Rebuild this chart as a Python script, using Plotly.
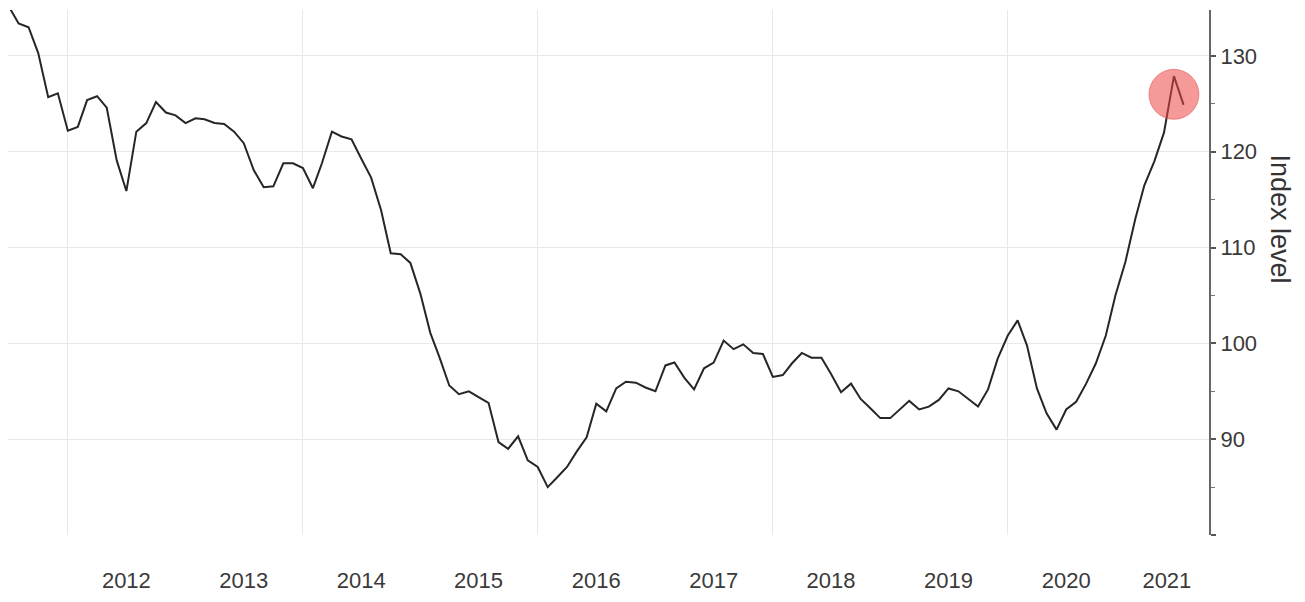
import pandas as pd
import plotly.graph_objects as go

# ---- data ----
start_month = "2011-07-01"
index_values = [
    135.2, 133.4, 133.0, 130.3, 125.7, 126.1,                                   # 2011 Jul-Dec
    122.2, 122.6, 125.4, 125.8, 124.6, 119.1, 115.9, 122.1, 123.0, 125.2, 124.1, 123.8,  # 2012
    123.0, 123.5, 123.4, 123.0, 122.9, 122.1, 120.9, 118.1, 116.3, 116.4, 118.8, 118.8,  # 2013
    118.3, 116.2, 118.8, 122.1, 121.6, 121.3, 119.3, 117.3, 113.9, 109.4, 109.3, 108.4,  # 2014
    105.2, 101.1, 98.6, 95.6, 94.7, 95.0, 94.4, 93.8, 89.7, 89.0, 90.3, 87.8,            # 2015
    87.1, 85.0, 86.0, 87.1, 88.7, 90.2, 93.7, 92.9, 95.3, 96.0, 95.9, 95.4,              # 2016
    95.0, 97.7, 98.0, 96.4, 95.2, 97.4, 98.0, 100.3, 99.4, 99.9, 99.0, 98.9,             # 2017
    96.5, 96.7, 97.9, 99.0, 98.5, 98.5, 96.8, 94.9, 95.8, 94.2, 93.2, 92.2,              # 2018
    92.2, 93.1, 94.0, 93.1, 93.4, 94.1, 95.3, 95.0, 94.2, 93.4, 95.2, 98.4,              # 2019
    100.8, 102.4, 99.8, 95.3, 92.7, 91.0, 93.1, 93.9, 95.8, 97.9, 100.8, 105.0,          # 2020
    108.5, 113.0, 116.5, 119.0, 122.0, 127.9, 124.9,                                    # 2021 Jan-Jul
]
dates = pd.date_range(start_month, periods=len(index_values), freq="MS")

highlight_date = "2021-06-01"
highlight_value = 126.0

year_labels = ["2012", "2013", "2014", "2015", "2016", "2017", "2018", "2019", "2020", "2021"]
year_label_dates = ["2012-07-01", "2013-07-01", "2014-07-01", "2015-07-01", "2016-07-01",
                    "2017-07-01", "2018-07-01", "2019-07-01", "2020-07-01", "2021-05-10"]
grid_dates = ["2012-01-01", "2014-01-01", "2016-01-01", "2018-01-01", "2020-01-01"]
y_tickvals = [80, 90, 100, 110, 120, 130]
y_ticktext = ["", "90", "100", "110", "120", "130"]
y_minor = [85, 95, 105, 115, 125]
x_range = ["2011-06-29", "2021-09-18"]
y_range = [80, 134.8]
y_title = "Index level"

FONT = "Liberation Sans, Arial, sans-serif"
GRID = "#e8e8e8"

fig = go.Figure()
fig.add_trace(go.Scatter(
    x=dates, y=index_values, mode="lines",
    line=dict(color="#262626", width=2), showlegend=False, hoverinfo="x+y",
))
fig.add_trace(go.Scatter(
    x=[highlight_date], y=[highlight_value], mode="markers",
    marker=dict(size=50, color="rgba(238,70,70,0.55)",
                line=dict(color="rgba(225,70,70,0.5)", width=1)),
    showlegend=False, hoverinfo="skip",
))

fig.update_layout(
    width=1297, height=594,
    margin=dict(l=0, r=96, t=2, b=67),
    paper_bgcolor="white", plot_bgcolor="white",
    font=dict(family=FONT, color="#3a3a3a"),
    xaxis=dict(
        type="date", range=x_range,
        tickmode="array", tickvals=year_label_dates, ticktext=year_labels,
        ticks="outside", ticklen=26, tickcolor="rgba(0,0,0,0)",
        showgrid=False, zeroline=False, showline=False,
        tickfont=dict(size=22, color="#3a3a3a"),
        minor=dict(tickmode="array", tickvals=grid_dates, showgrid=True,
                   gridcolor=GRID, gridwidth=1, ticks=""),
    ),
    yaxis=dict(
        side="right", range=y_range,
        tickmode="array", tickvals=y_tickvals, ticktext=y_ticktext,
        ticks="outside", ticklen=5, tickwidth=2, tickcolor="#555",
        showline=True, linecolor="#666", linewidth=2,
        showgrid=True, gridcolor=GRID, gridwidth=1, zeroline=False,
        tickfont=dict(size=22, color="#3a3a3a"),
        minor=dict(tickmode="array", tickvals=y_minor, ticks="outside",
                   ticklen=4, tickwidth=1, tickcolor="#777", showgrid=False),
    ),
    annotations=[dict(
        text=y_title, textangle=90, xref="paper", yref="paper",
        x=1.0595, y=0.602, xanchor="center", yanchor="middle",
        showarrow=False, font=dict(size=27, color="#333", family=FONT),
    )],
)

fig.write_html("out.html")
